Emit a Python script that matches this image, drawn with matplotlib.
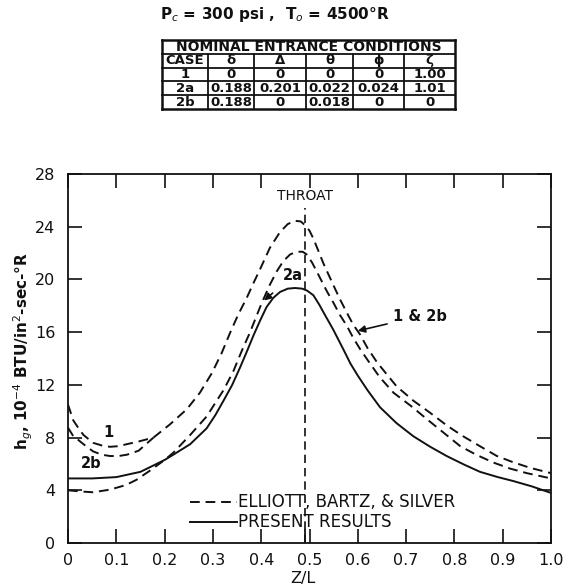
import matplotlib
matplotlib.use("Agg")
import matplotlib.pyplot as plt

# ---- data ----
# Elliott, Bartz & Silver: case 1 and case 2b start apart, then share one curve
z_case1_left = [0.0, 0.011, 0.022, 0.032, 0.052, 0.07, 0.087, 0.105, 0.122, 0.146, 0.177]
h_case1_left = [10.5, 9.3, 8.7, 8.2, 7.6, 7.4, 7.3, 7.35, 7.5, 7.7, 8.0]
z_case2b_left = [0.0, 0.011, 0.022, 0.032, 0.052, 0.07, 0.087, 0.105, 0.122, 0.146, 0.177]
h_case2b_left = [8.75, 8.1, 7.8, 7.5, 6.95, 6.7, 6.6, 6.6, 6.7, 7.0, 8.0]

z_ebs_1_2b = [0.177, 0.211, 0.246, 0.273, 0.298, 0.318, 0.335, 0.352, 0.37, 0.385,
              0.398, 0.418, 0.439, 0.455, 0.47, 0.482, 0.491, 0.5, 0.508, 0.518,
              0.529, 0.549, 0.563, 0.577, 0.59, 0.605, 0.62, 0.64, 0.66, 0.68,
              0.715, 0.749, 0.785, 0.818, 0.855, 0.888, 0.92, 0.957, 1.0]
h_ebs_1_2b = [8.0, 9.0, 10.15, 11.4, 12.9, 14.4, 15.9, 17.3, 18.6, 19.8,
              20.8, 22.4, 23.6, 24.2, 24.45, 24.4, 24.1, 23.7, 23.1, 22.2,
              21.2, 19.6, 18.5, 17.5, 16.6, 15.8, 14.8, 13.7, 12.8, 11.9,
              10.8, 9.9, 8.9, 8.1, 7.3, 6.6, 6.15, 5.7, 5.3]

# Elliott, Bartz & Silver, case 2a
z_ebs_2a = [0.0, 0.03, 0.052, 0.087, 0.12, 0.142, 0.17, 0.2, 0.218, 0.253,
            0.287, 0.322, 0.342, 0.36, 0.377, 0.39, 0.401, 0.418, 0.432, 0.446,
            0.46, 0.473, 0.486, 0.494, 0.505, 0.515, 0.536, 0.55, 0.563, 0.577,
            0.59, 0.605, 0.62, 0.645, 0.674, 0.71, 0.743, 0.78, 0.812, 0.845,
            0.881, 0.915, 0.95, 1.0]
h_ebs_2a = [4.0, 3.9, 3.85, 4.05, 4.4, 4.8, 5.5, 6.3, 6.85, 8.2,
            9.6, 11.6, 13.0, 14.6, 16.0, 17.2, 18.2, 19.6, 20.6, 21.4,
            21.9, 22.1, 22.1, 21.9, 21.3, 20.6, 19.1, 18.2, 17.3, 16.5,
            15.6, 14.7, 13.9, 12.6, 11.4, 10.4, 9.4, 8.3, 7.35, 6.7,
            6.1, 5.65, 5.3, 4.9]

# present results
z_present = [0.0, 0.05, 0.1, 0.15, 0.2, 0.218, 0.253, 0.287, 0.305, 0.322,
             0.34, 0.356, 0.37, 0.384, 0.398, 0.411, 0.425, 0.439, 0.455,
             0.47, 0.485, 0.495, 0.508, 0.52, 0.529, 0.549, 0.57, 0.585, 0.6,
             0.62, 0.646, 0.68, 0.715, 0.75, 0.784, 0.82, 0.853, 0.89, 0.922,
             0.96, 1.0]
h_present = [4.9, 4.9, 5.0, 5.4, 6.3, 6.7, 7.5, 8.7, 9.7, 10.8,
             12.0, 13.3, 14.5, 15.75, 16.9, 17.9, 18.6, 19.05, 19.3,
             19.35, 19.3, 19.15, 18.8, 18.1, 17.5, 16.2, 14.7, 13.6, 12.7,
             11.6, 10.3, 9.1, 8.1, 7.3, 6.6, 5.95, 5.4, 5.0, 4.7,
             4.3, 3.8]

z_throat = 0.49

x_ticks = [0, 0.1, 0.2, 0.3, 0.4, 0.5, 0.6, 0.7, 0.8, 0.9, 1.0]
x_labels = ["0", "0.1", "0.2", "0.3", "0.4", "0.5", "0.6", "0.7", "0.8", "0.9", "1.0"]
y_ticks = [0, 4, 8, 12, 16, 20, 24, 28]

# entrance-condition table
table_title = "NOMINAL ENTRANCE CONDITIONS"
col_labels = ["CASE", "δ", "Δ", "θ", "ϕ", "ζ"]
table_rows = [
    ["1", "0", "0", "0", "0", "1.00"],
    ["2a", "0.188", "0.201", "0.022", "0.024", "1.01"],
    ["2b", "0.188", "0", "0.018", "0", "0"],
]

plt.rcParams["font.family"] = ["DejaVu Sans"]
ink = "#111111"

fig = plt.figure(figsize=(5.63, 5.87), dpi=100)
fig.patch.set_facecolor("white")

ax = fig.add_axes([68 / 563, 1 - 543 / 587, 483 / 563, 369 / 587])

dash = (0, (5, 3))
ax.plot(z_case1_left, h_case1_left, color=ink, lw=1.4, linestyle=dash)
ax.plot(z_case2b_left, h_case2b_left, color=ink, lw=1.4, linestyle=dash)
ax.plot(z_ebs_1_2b, h_ebs_1_2b, color=ink, lw=1.4, linestyle=dash)
ax.plot(z_ebs_2a, h_ebs_2a, color=ink, lw=1.4, linestyle=dash)
ax.plot(z_present, h_present, color=ink, lw=1.4)

# throat
ax.plot([z_throat, z_throat], [0, 25.4], color=ink, lw=1.2, linestyle=(0, (5, 3)))
ax.text(z_throat, 26.3, "THROAT", ha="center", va="center", fontsize=10, color=ink)

# curve labels
ax.annotate("2a", xy=(0.406, 18.4), xytext=(0.445, 20.3), fontsize=10.5, color=ink,
            fontweight="bold", ha="left", va="center",
            arrowprops=dict(arrowstyle="-|>", color=ink, lw=1.2, shrinkA=8, shrinkB=0))
ax.annotate("1 & 2b", xy=(0.6, 16.1), xytext=(0.672, 17.2), fontsize=10.5, color=ink,
            fontweight="bold", ha="left", va="center",
            arrowprops=dict(arrowstyle="-|>", color=ink, lw=1.2, shrinkA=2, shrinkB=0))
ax.text(0.083, 8.4, "1", fontsize=10.5, color=ink, fontweight="bold", ha="center", va="center")
ax.text(0.048, 6.0, "2b", fontsize=10.5, color=ink, fontweight="bold", ha="center", va="center")

# legend drawn in place
ax.plot([0.252, 0.35], [3.1, 3.1], color=ink, lw=1.4, linestyle=dash)
ax.text(0.353, 3.1, "ELLIOTT, BARTZ, & SILVER", fontsize=12, color=ink,
        ha="left", va="center")
ax.plot([0.252, 0.35], [1.6, 1.6], color=ink, lw=1.4)
ax.text(0.353, 1.6, "PRESENT RESULTS", fontsize=12, color=ink,
        ha="left", va="center")

ax.set_xlim(0, 1.0)
ax.set_ylim(0, 28)
ax.set_xticks(x_ticks)
ax.set_xticklabels(x_labels)
ax.set_xticks([z_throat], minor=True)
ax.set_yticks(y_ticks)
ax.tick_params(axis="both", which="major", direction="in", length=10, width=1.2,
               top=True, right=True, labelsize=11.5, colors=ink)
ax.tick_params(axis="x", which="minor", direction="in", length=10, width=1.2,
               top=False, bottom=True)
ax.tick_params(axis="x", which="major", pad=7)
ax.tick_params(axis="y", which="major", pad=9)
for s in ax.spines.values():
    s.set_linewidth(1.3)
    s.set_color(ink)

ax.set_xlabel("Z/L", fontsize=11.5, color=ink)
ax.xaxis.set_label_coords(0.487, -0.075)
ax.set_ylabel("h$_g$, 10$^{-4}$ BTU/in$^2$-sec-°R", fontsize=11, color=ink,
              fontweight="bold")
ax.yaxis.set_label_coords(-0.068, 0.52)

# heading above the table
fig.text(275 / 563, 1 - 14 / 587, "P$_c$ = 300 psi ,  T$_o$ = 4500°R",
         ha="center", va="center", fontsize=11, color=ink, fontweight="bold")

# table
tax = fig.add_axes([162 / 563, 1 - 109 / 587, 293 / 563, 69 / 587])
tax.set_xlim(0, 293)
tax.set_ylim(5, 0)
tax.axis("off")
col_widths = [46, 46, 52, 47, 51, 51]
edges = [0]
for w in col_widths:
    edges.append(edges[-1] + w)

tax.text(edges[-1] / 2, 0.5, table_title, ha="center", va="center", fontsize=10,
         color=ink, fontweight="bold")
for j, lab in enumerate(col_labels):
    tax.text((edges[j] + edges[j + 1]) / 2, 1.5, lab, ha="center", va="center",
             fontsize=9.5, color=ink, fontweight="bold")
for i, row in enumerate(table_rows):
    for j, val in enumerate(row):
        tax.text((edges[j] + edges[j + 1]) / 2, 2.5 + i, val, ha="center", va="center",
                 fontsize=9.5, color=ink, fontweight="bold")

for r in range(6):
    lw = 1.8 if r in (0, 5) else 1.3
    tax.plot([0, edges[-1]], [r, r], color=ink, lw=lw, clip_on=False)
for j, e in enumerate(edges):
    lw = 1.8 if j in (0, len(edges) - 1) else 1.3
    y0 = 0 if j in (0, len(edges) - 1) else 1
    tax.plot([e, e], [y0, 5], color=ink, lw=lw, clip_on=False)

fig.savefig("out.png", dpi=100, facecolor="white")
